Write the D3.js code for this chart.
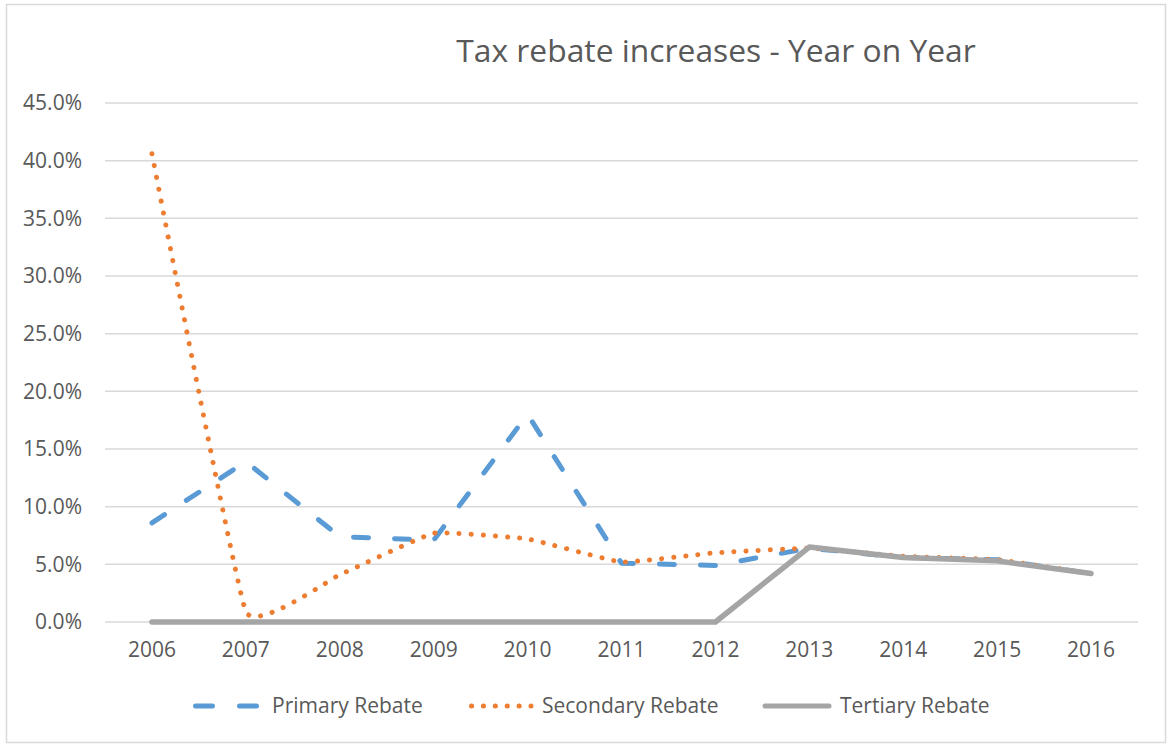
<!DOCTYPE html>
<html>
<head>
<meta charset="utf-8">
<script src="https://cdn.jsdelivr.net/npm/d3@7"></script>
<style>
  body { margin: 0; background: #fff; }
  svg text { font-family: "Open Sans", "Noto Sans", sans-serif; fill: #595959; }
</style>
</head>
<body>
<div id="chart"></div>
<script>
const years = ['2006', '2007', '2008', '2009', '2010', '2011', '2012', '2013', '2014', '2015', '2016'];
const primaryRebate = [0.086, 0.139, 0.074, 0.071, 0.180, 0.051, 0.049, 0.064, 0.056, 0.054, 0.042];
const secondaryRebate = [0.406, 0.009, 0.041, 0.077, 0.072, 0.052, 0.060, 0.064, 0.057, 0.054, 0.042];
const tertiaryRebate = [0, 0, 0, 0, 0, 0, 0, 0.065, 0.056, 0.053, 0.042];
const yTicks = [0, 0.05, 0.10, 0.15, 0.20, 0.25, 0.30, 0.35, 0.40, 0.45];

const series = [
    { name: 'Primary Rebate', values: primaryRebate, color: '#5b9bd5', dash: '15,26', legendDash: '17,27', curve: d3.curveLinear },
    { name: 'Secondary Rebate', values: secondaryRebate, color: '#ed7d31', dash: '0.1,12', legendDash: '0.1,11.8', curve: d3.curveCardinal.tension(0.7) },
    { name: 'Tertiary Rebate', values: tertiaryRebate, color: '#a5a5a5', dash: null, legendDash: null, curve: d3.curveLinear }
];

const width = 1169, height = 744;
const svg = d3.select('#chart').append('svg')
    .attr('width', width)
    .attr('height', height);

// chart border
svg.append('rect')
    .attr('x', 6.5).attr('y', 4.5)
    .attr('width', 1159).attr('height', 738)
    .attr('fill', '#fff')
    .attr('stroke', '#d9d9d9')
    .attr('stroke-width', 1.5);

const x = d3.scaleBand().domain(years).range([105, 1138]);
const y = d3.scaleLinear().domain([0, 0.45]).range([622, 103]);

// title
svg.append('text')
    .attr('x', 716).attr('y', 62)
    .attr('text-anchor', 'middle')
    .style('font-size', '31.8px')
    .text('Tax rebate increases - Year on Year');

// gridlines
svg.append('g')
    .selectAll('line')
    .data(yTicks)
    .enter().append('line')
    .attr('x1', 105).attr('x2', 1138)
    .attr('y1', d => y(d)).attr('y2', d => y(d))
    .attr('stroke', '#d9d9d9')
    .attr('stroke-width', 1.5);

// y axis
const yAxis = svg.append('g')
    .attr('transform', 'translate(82,0)')
    .call(d3.axisLeft(y).tickValues(yTicks).tickFormat(d3.format('.1%')).tickSize(0).tickPadding(0));
yAxis.select('.domain').remove();
yAxis.selectAll('text').style('font-size', '21px').attr('fill', '#595959');

// x axis
const xAxis = svg.append('g')
    .attr('transform', 'translate(0,622)')
    .call(d3.axisBottom(x).tickSize(0).tickPadding(20));
xAxis.select('.domain').remove();
xAxis.selectAll('text').style('font-size', '21px').attr('fill', '#595959');

const line = d3.line()
    .x((d, i) => x(years[i]) + x.bandwidth() / 2)
    .y(d => y(d));

// series order as in Excel: tertiary ends up on top
series.forEach(s => {
    svg.append('path')
        .datum(s.values)
        .attr('fill', 'none')
        .attr('stroke', s.color)
        .attr('stroke-width', s.dash ? 5 : 5.5)
        .attr('stroke-linecap', 'round')
        .attr('stroke-linejoin', 'round')
        .attr('stroke-dasharray', s.dash)
        .attr('d', line.curve(s.curve));
});

// legend
const legendItems = [
    { x1: 195.5, x2: 257.5, tx: 272 },
    { x1: 471.5, x2: 531, tx: 542 },
    { x1: 765, x2: 829, tx: 840 }
];
series.forEach((s, i) => {
    const g = svg.append('g');
    g.append('line')
        .attr('x1', legendItems[i].x1).attr('x2', legendItems[i].x2)
        .attr('y1', 706).attr('y2', 706)
        .attr('stroke', s.color)
        .attr('stroke-width', 5)
        .attr('stroke-linecap', 'round')
        .attr('stroke-dasharray', s.legendDash);
    g.append('text')
        .attr('x', legendItems[i].tx).attr('y', 713)
        .style('font-size', '21px')
        .text(s.name);
});
</script>
</body>
</html>
